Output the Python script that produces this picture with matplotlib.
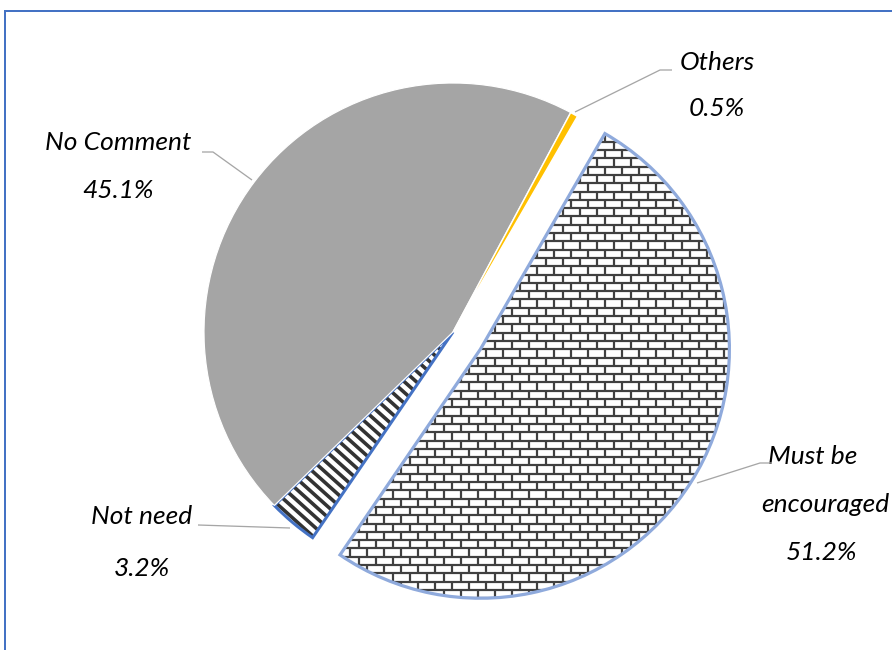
import numpy as np
import matplotlib
matplotlib.use('Agg')
import matplotlib.pyplot as plt
from matplotlib.patches import Wedge, Rectangle
from matplotlib.collections import LineCollection

# ---------------- data ----------------
categories = ['Must be\nencouraged', 'Not need', 'No Comment', 'Others']
values = [51.2, 3.2, 45.1, 0.5]
pct_labels = ['51.2%', '3.2%', '45.1%', '0.5%']

# ---------------- layout (pixel units, y measured upward) ----------------
W, H = 892, 650
fig = plt.figure(figsize=(W / 100, H / 100), dpi=100)
ax = fig.add_axes([0, 0, 1, 1])

cx, cy, R = 453, H - 332, 249
explode = [0.13 * R, 0, 0, 0]
fill_colors = ['white', 'white', '#A5A5A5', '#FFC000']

wedges, _ = ax.pie(values, startangle=90 - 30, counterclock=False,
                   center=(cx, cy), radius=R, explode=explode,
                   colors=fill_colors, frame=True,
                   wedgeprops=dict(linewidth=0))
ax.set_xlim(0, W)
ax.set_ylim(0, H)
ax.set_aspect('equal')
ax.axis('off')

px = 72 / 100  # points per pixel

for w in wedges:
    w.set_zorder(1)

# gray and yellow slices with thin white separation
wedges[2].set_edgecolor('white'); wedges[2].set_linewidth(1.2 * px); wedges[2].set_zorder(5)
wedges[3].set_edgecolor('white'); wedges[3].set_linewidth(1.5 * px); wedges[3].set_zorder(6)

# ---- brick pattern for "Must be encouraged" ----
wb = wedges[0]
bx, by = wb.center
row_h, brick_w = 8.3, 17.0
segs = []
ys = np.arange(by - R - row_h, by + R + row_h, row_h)
for k, y0 in enumerate(ys):
    segs.append([(bx - R - 5, y0), (bx + R + 5, y0)])
    off = (k % 2) * brick_w / 2
    for x0 in np.arange(bx - R - brick_w + off, bx + R + brick_w, brick_w):
        segs.append([(x0, y0), (x0, y0 + row_h)])
brick = LineCollection(segs, colors='#404040', linewidths=2.2 * px, zorder=2)
ax.add_collection(brick)
brick.set_clip_path(wb)

# ---- stripes for "Not need" ----
wn = wedges[1]
nx, ny = wn.center
ang = np.deg2rad(-42)
d = np.array([np.cos(ang), np.sin(ang)])
n = np.array([-np.sin(ang), np.cos(ang)])
ssegs = []
for t in np.arange(-R * 1.5, R * 1.5, 8.0):
    p = np.array([nx, ny]) + t * n
    ssegs.append([tuple(p - 1.5 * R * d), tuple(p + 1.5 * R * d)])
stripes = LineCollection(ssegs, colors='#333333', linewidths=3.6 * px, zorder=2)
ax.add_collection(stripes)
stripes.set_clip_path(wn)

# outlines
ax.add_patch(Wedge(wb.center, wb.r, wb.theta1, wb.theta2, fill=False,
                   edgecolor='#8FAADC', linewidth=3.2 * px, zorder=3))
ax.add_patch(Wedge(wn.center, wn.r, wn.theta1, wn.theta2, fill=False,
                   edgecolor='#4472C4', linewidth=3.0 * px, zorder=3))

# ---------------- labels ----------------
font = dict(family='Lato', style='italic', weight='normal', size=19, color='black')

def T(x, y, s, **kw):
    ax.text(x, H - y, s, ha='center', va='center', **font, **kw)

def L(pts):
    xs = [p[0] for p in pts]
    ys = [H - p[1] for p in pts]
    ax.plot(xs, ys, color='#A6A6A6', lw=1.3 * px, zorder=7, solid_capstyle='butt')

# Others
T(717, 62, categories[3]); T(717, 108, pct_labels[3])
L([(575, 112), (660, 70), (672, 70)])
# No Comment
T(118, 143, categories[2]); T(118, 190, pct_labels[2])
L([(202, 152), (213, 152), (252, 180)])
# Not need
T(142, 517, categories[1]); T(142, 568, pct_labels[1])
L([(198, 525), (290, 528)])
# Must be encouraged
T(813, 456, 'Must be'); T(825, 505, 'encouraged'); T(822, 553, pct_labels[0])
L([(697, 483), (760, 463), (772, 463)])

# chart frame (extends beyond the right and bottom of the image)
ax.add_patch(Rectangle((4.5, -20), 920, H - 10.5 + 20, fill=False,
                       edgecolor='#4472C4', linewidth=2 * px, clip_on=False, zorder=10))

fig.savefig('out.png', dpi=100)
